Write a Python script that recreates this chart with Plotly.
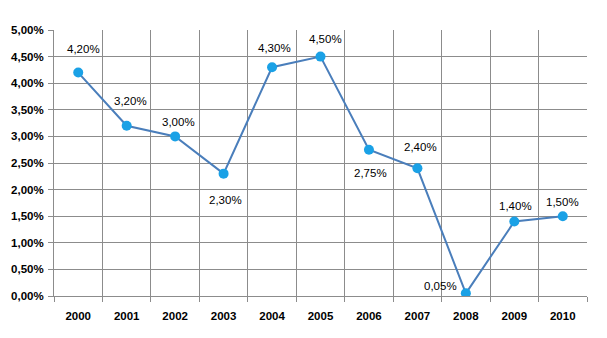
import plotly.graph_objects as go

years = ["2000", "2001", "2002", "2003", "2004", "2005", "2006", "2007", "2008", "2009", "2010"]
rates = [4.20, 3.20, 3.00, 2.30, 4.30, 4.50, 2.75, 2.40, 0.05, 1.40, 1.50]  # percent

# label placement offsets in pixels (style, not data)
label_dx = [5, 4, 3, 2, 2, 5, 1.5, 3, -25.5, 1, 0]
label_dy = [23.5, 25, 14, -26, 19, 17.5, -23, 21, 7.7, 15.7, 14]

x = list(range(len(years)))
y = [r / 100 for r in rates]
labels = [f"{r:.2f}".replace(".", ",") + "%" for r in rates]

FONT = "Liberation Sans"
GRID = "#8c8c8c"

fig = go.Figure()
fig.add_trace(go.Scatter(
    x=x, y=y, mode="lines+markers",
    line=dict(color="#4A7EBB", width=2),
    marker=dict(color="#1AA1E6", size=10),
    hoverinfo="skip",
))

for xi, yi, t, dx, dy in zip(x, y, labels, label_dx, label_dy):
    fig.add_annotation(x=xi, y=yi, text=t, showarrow=False,
                       xshift=dx, yshift=dy,
                       font=dict(family=FONT, size=11.5, color="#000000"))

fig.update_layout(
    width=607, height=338,
    margin=dict(l=54, r=20, t=30, b=42),
    paper_bgcolor="white", plot_bgcolor="white",
    separators=",.",
    showlegend=False,
    font=dict(family=FONT, size=11, color="#000000"),
)
fig.update_xaxes(
    range=[-0.5, len(years) - 0.5],
    tickmode="array", tickvals=x, ticktext=years,
    ticks="", showgrid=False, ticklabelstandoff=9,
    showline=True, linecolor=GRID, linewidth=1,
    tickfont=dict(family=FONT, size=11.5, color="#000000", weight="bold"),
    minor=dict(tickmode="array", tickvals=[i - 0.5 for i in range(len(years) + 1)],
               ticks="outside", ticklen=5, tickcolor=GRID, showgrid=True,
               gridcolor=GRID, gridwidth=1),
    zeroline=False, fixedrange=True,
)
fig.update_yaxes(
    range=[0, 0.05], dtick=0.005, tick0=0, tickformat=".2%",
    ticks="outside", ticklen=5, tickcolor=GRID, ticklabelstandoff=2,
    showgrid=True, gridcolor=GRID, gridwidth=1,
    showline=True, linecolor=GRID, linewidth=1,
    zeroline=False, fixedrange=True,
    tickfont=dict(family=FONT, size=11.5, color="#000000", weight="bold"),
)

fig.write_html("out.html", config={"displayModeBar": False})
